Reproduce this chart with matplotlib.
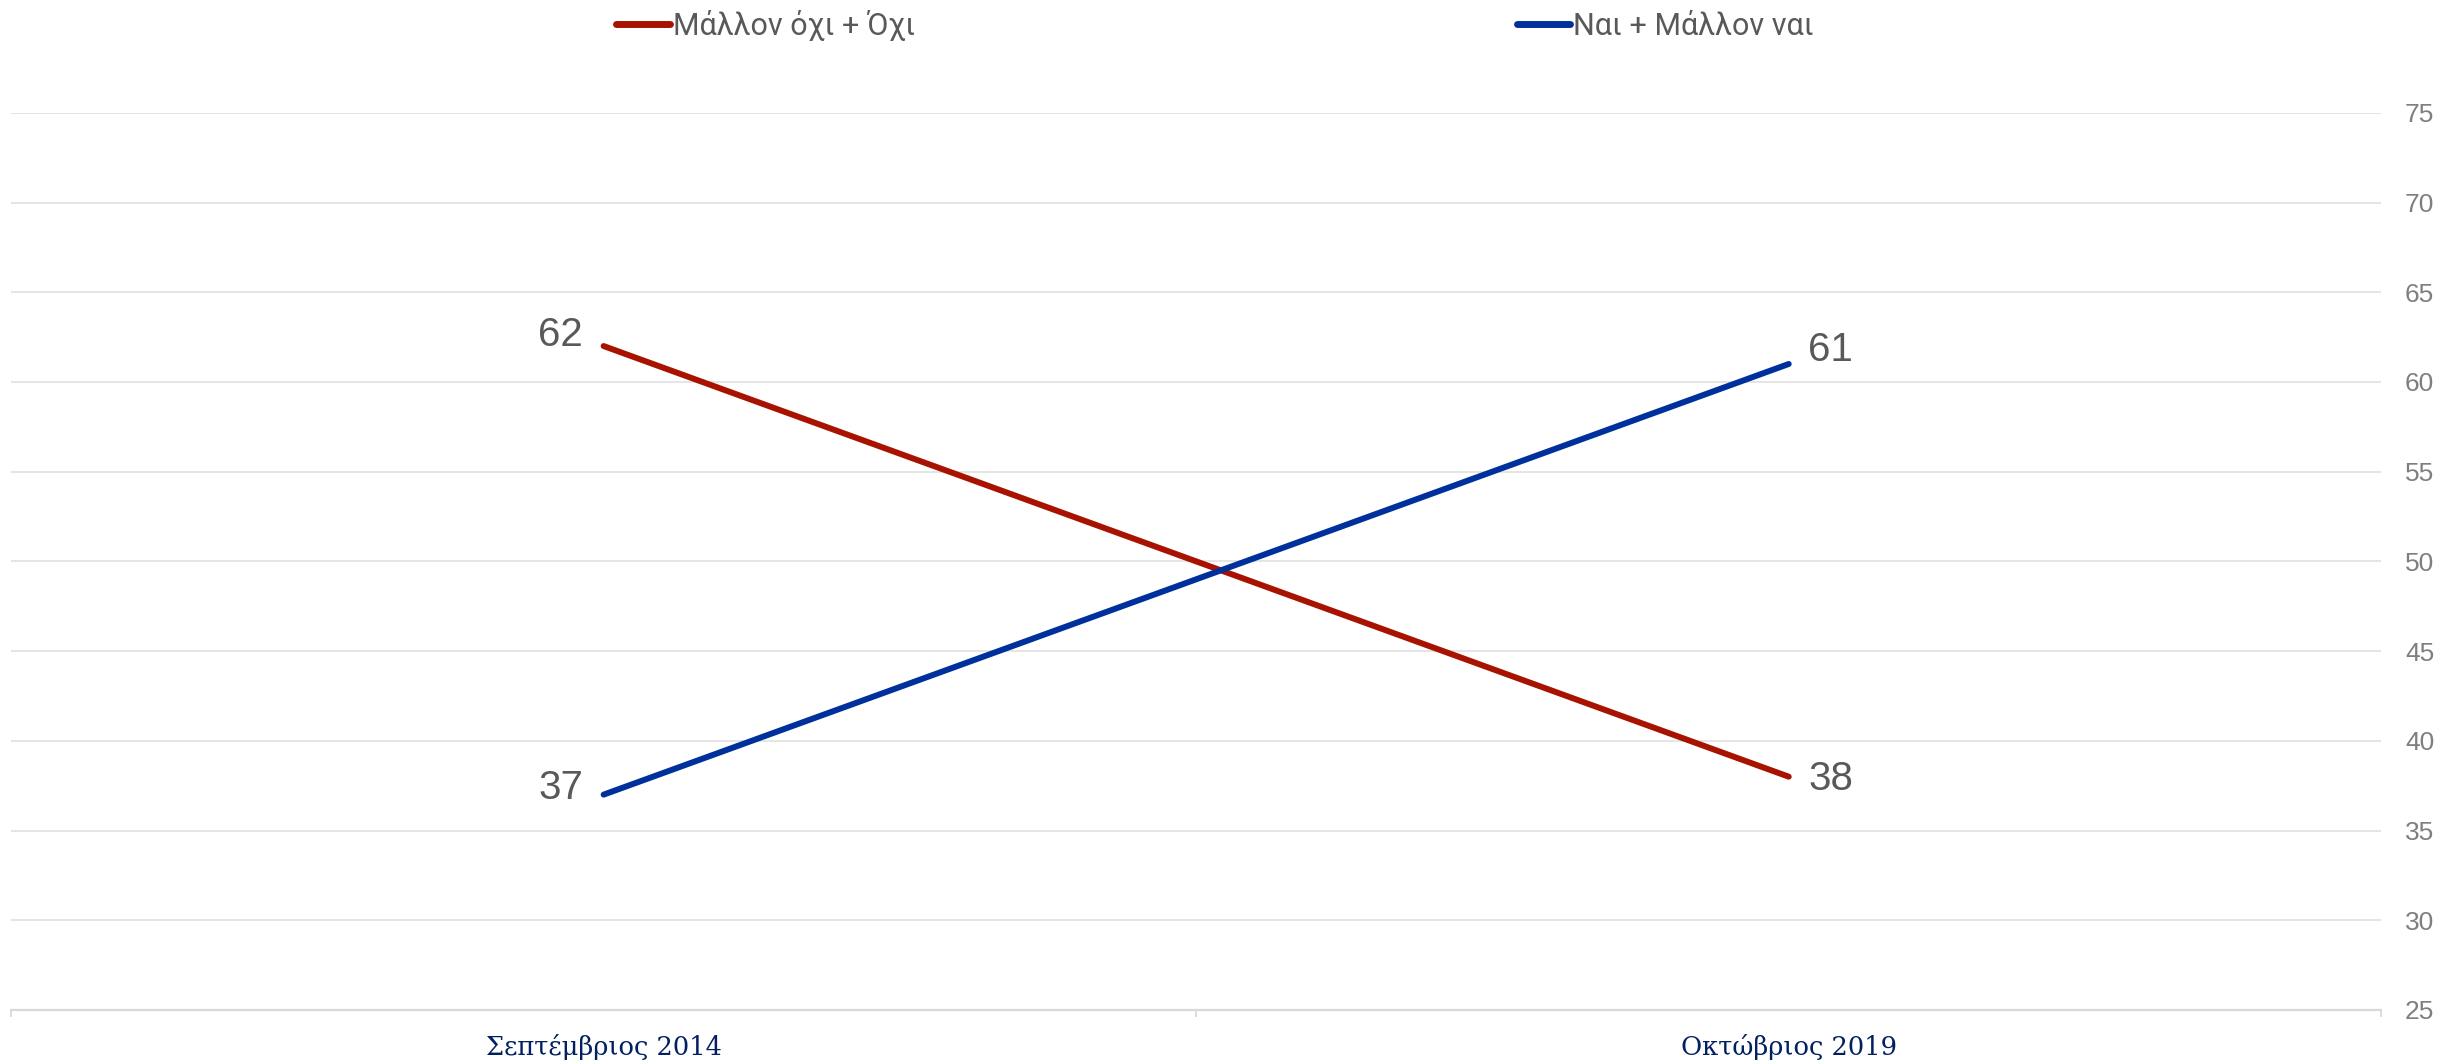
import matplotlib.pyplot as plt

periods = ["Σεπτέμβριος 2014", "Οκτώβριος 2019"]
no_vals = [62, 38]
yes_vals = [37, 61]
series_names = ["Μάλλον όχι + Όχι", "Ναι + Μάλλον ναι"]
y_ticks = [25, 30, 35, 40, 45, 50, 55, 60, 65, 70, 75]

red = "#A81200"
blue = "#00309C"

fig = plt.figure(figsize=(24.6, 10.64), dpi=100)
ax = fig.add_axes([0.0045, 0.0508, 0.9635, 0.8432])

x = list(range(len(periods)))
l1, = ax.plot(x, no_vals, color=red, lw=4.3, solid_capstyle="round", label=series_names[0])
l2, = ax.plot(x, yes_vals, color=blue, lw=4.3, solid_capstyle="round", label=series_names[1])

# data labels: left point labels sit to the left, right point labels to the right
for i, (a, b) in enumerate(zip(no_vals, yes_vals)):
    dx = -31 if i == 0 else 30
    for v, dy in ((a, 8 if i == 0 else -2), (b, 5 if i == 0 else 10)):
        ax.annotate(str(v), (i, v), xytext=(dx, dy), textcoords="offset points",
                    ha="center", va="center", fontsize=29, color="#595959",
                    family="Liberation Sans")

ax.set_xlim(-0.5, 1.5)
ax.set_ylim(25, 75)
ax.set_yticks(y_ticks)
ax.yaxis.tick_right()
ax.tick_params(axis="y", length=0, pad=17, labelsize=19, labelcolor="#7f7f7f")
for lab in ax.get_yticklabels():
    lab.set_family("Liberation Sans")

ax.set_xticks([-0.5, 0.5, 1.5])
ax.set_xticklabels([])
ax.set_xticks(x, minor=True)
ax.set_xticklabels(periods, minor=True, fontsize=18.5, color="#002060", family="DejaVu Serif")
ax.tick_params(axis="x", which="major", length=5, width=1.3, color="#d9d9d9")
ax.tick_params(axis="x", which="minor", length=0, pad=17)

ax.grid(axis="y", color="#e0e0e0", lw=1.2)
ax.set_axisbelow(True)
for s in ["top", "left", "right"]:
    ax.spines[s].set_visible(False)
ax.spines["bottom"].set_color("#d9d9d9")
ax.spines["bottom"].set_linewidth(1.6)

leg = fig.legend(handles=[l1, l2], loc="center", bbox_to_anchor=(0.494, 0.976), ncol=2,
                 frameon=False, handlelength=1.75, handletextpad=0.1, columnspacing=19.7,
                 prop={"family": "Roboto", "size": 22}, labelcolor="#595959")
for h in leg.legend_handles:
    h.set_linewidth(5)

fig.savefig("out.png", dpi=100)
